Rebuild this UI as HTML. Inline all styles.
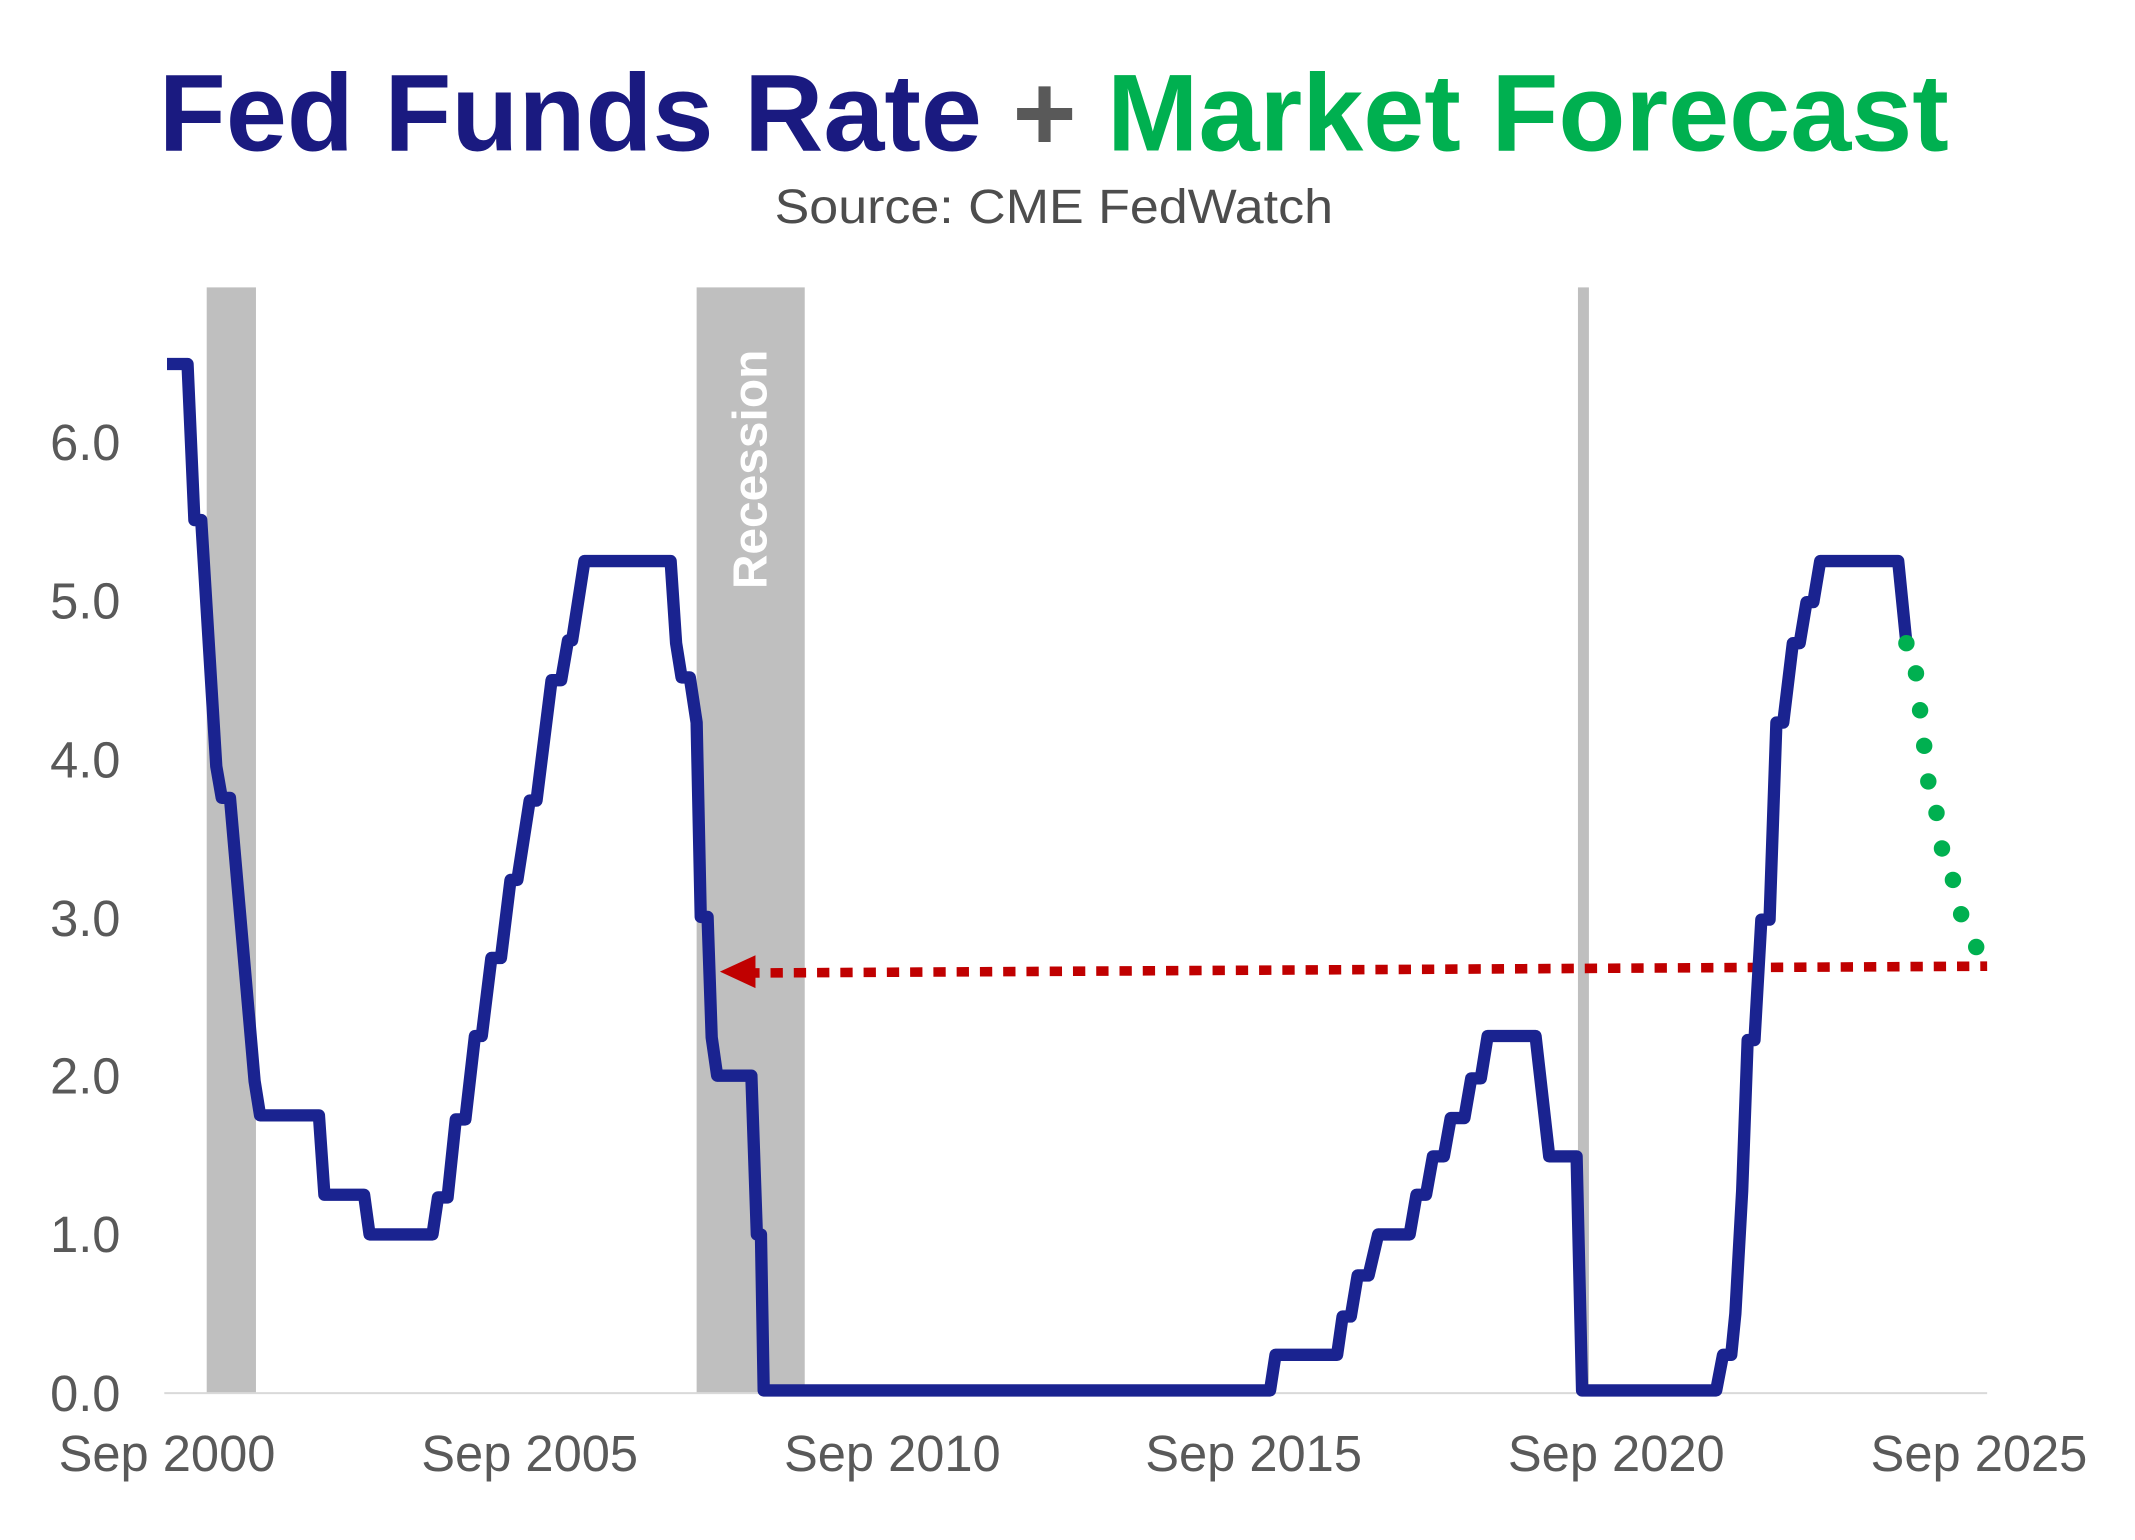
<!DOCTYPE html>
<html><head><meta charset="utf-8"><style>
html,body{margin:0;padding:0;background:#fff;}
svg{display:block;}
text{font-family:"Liberation Sans",Arial,sans-serif;}
</style></head><body>
<svg width="2135" height="1540" viewBox="0 0 1560 1125.3" xmlns="http://www.w3.org/2000/svg">
<rect width="1560" height="1126" fill="#fff"/>
<text x="770" y="110" text-anchor="middle" font-size="80" font-weight="bold" textLength="1308" lengthAdjust="spacingAndGlyphs"><tspan fill="#1a1a80">Fed Funds Rate</tspan><tspan fill="#595959"> + </tspan><tspan fill="#00b050">Market Forecast</tspan></text>
<text x="770" y="163" text-anchor="middle" font-size="35" fill="#4d4d4d" textLength="408" lengthAdjust="spacingAndGlyphs">Source: CME FedWatch</text>
<rect x="151" y="210" width="36" height="808" fill="#bfbfbf"/>
<rect x="509" y="210" width="79" height="808" fill="#bfbfbf"/>
<rect x="1153" y="210" width="8" height="808" fill="#bfbfbf"/>
<text transform="translate(560,343) rotate(-90)" text-anchor="middle" font-size="35" font-weight="bold" fill="#fff">Recession</text>
<line x1="120" y1="1018" x2="1452" y2="1018" stroke="#d9d9d9" stroke-width="1.5"/>
<g font-size="37" fill="#595959" text-anchor="end">
<text x="88" y="1031">0.0</text><text x="88" y="915">1.0</text><text x="88" y="799">2.0</text><text x="88" y="684">3.0</text><text x="88" y="568">4.0</text><text x="88" y="452">5.0</text><text x="88" y="336">6.0</text>
</g>
<g font-size="37" fill="#595959" text-anchor="middle">
<text x="122" y="1075">Sep 2000</text><text x="387" y="1075">Sep 2005</text><text x="652" y="1075">Sep 2010</text><text x="916" y="1075">Sep 2015</text><text x="1181" y="1075">Sep 2020</text><text x="1446" y="1075">Sep 2025</text>
</g>
<line x1="546" y1="711" x2="1452" y2="706" stroke="#c00000" stroke-width="7" stroke-dasharray="9,8"/>
<polygon points="526,710 552,698 552,722" fill="#c00000"/>
<path d="M122,266 H137 L142,380 H147 L158,560 L162,583 H168 L186,790 L190,815 H233 L237,873 H266 L270,902 H316 L320,875 H327 L333,818 H340 L347,757 H352 L359,700 H366 L373,643 H378 L387,585 H392 L403,497 H410 L415,468 H418 L427,410 H490 L494,470 L498,495 H504 L509,528 L512,670 H517 L520,758 L524,786 H549 L553,902 H556 L558,1016 H928 L932,990 H977 L981,962 H987 L992,932 H1000 L1007,902 H1030 L1035,873 H1042 L1047,845 H1055 L1060,817 H1070 L1075,788 H1082 L1087,757 H1122 L1132,845 H1152 L1156,1016 H1254 L1259,990 H1265 L1268,960 L1273,870 L1277,760 H1282 L1287,672 H1293 L1298,528 H1303 L1310,470 H1315 L1320,440 H1325 L1330,410 H1387 L1393,470" fill="none" stroke="#1a2390" stroke-width="9" stroke-linejoin="round"/>
<g fill="#00b050">
<circle cx="1393" cy="470" r="6"/><circle cx="1400" cy="492" r="6"/><circle cx="1403" cy="519" r="6"/><circle cx="1406" cy="545" r="6"/><circle cx="1409" cy="571" r="6"/><circle cx="1415" cy="594" r="6"/><circle cx="1419" cy="620" r="6"/><circle cx="1427" cy="643" r="6"/><circle cx="1433" cy="668" r="6"/><circle cx="1444" cy="692" r="6"/>
</g>
</svg>
</body></html>
